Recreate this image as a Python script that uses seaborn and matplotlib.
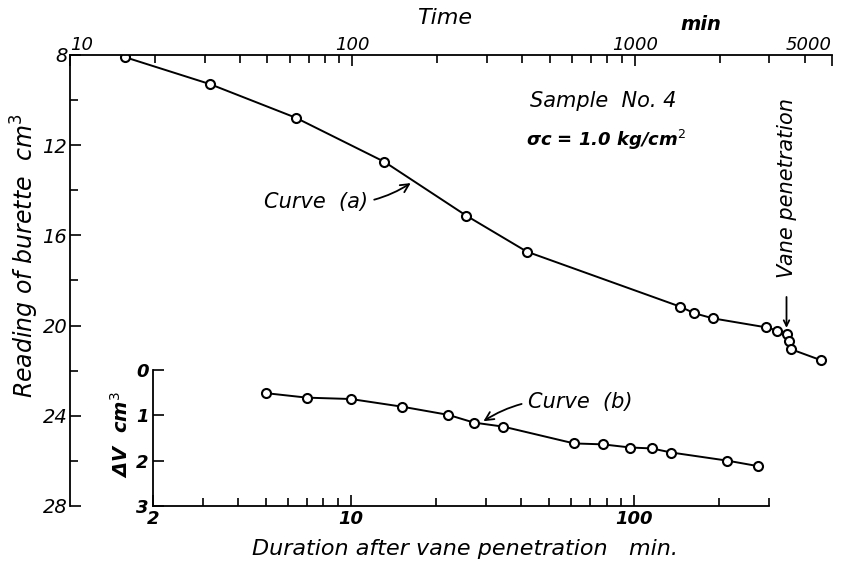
import matplotlib
matplotlib.use("Agg")
import matplotlib.pyplot as plt
import seaborn as sns
import pandas as pd
from matplotlib.ticker import NullFormatter, FixedLocator

# ---- data: curve (a), reading of burette vs elapsed time ----
time_a = [15.7, 31.3, 63, 130, 253, 415, 1450, 1625, 1895, 2930, 3200, 3450, 3520, 3565, 4560]
reading_a = [8.1, 9.29, 10.78, 12.74, 15.12, 16.72, 19.16, 19.45, 19.68, 20.08, 20.22, 20.37, 20.68, 21.04, 21.53]

# ---- data: curve (b), delta V vs duration after vane penetration ----
dur_b = [5.0, 7.0, 10.0, 15.2, 22.1, 27.2, 34.6, 61.5, 77.6, 97.2, 115.6, 135.5, 214, 274]
dv_b = [0.51, 0.61, 0.64, 0.81, 0.99, 1.16, 1.25, 1.62, 1.64, 1.71, 1.73, 1.82, 2.0, 2.12]

top_ticks = [10, 100, 1000, 5000]
top_labels = ["10", "100", "1000", "5000"]
left_ticks = [8, 12, 16, 20, 24, 28]
inset_xticks = [2, 10, 100]
inset_yticks = [0, 1, 2, 3]

df_a = pd.DataFrame({"time": time_a, "reading": reading_a})
df_b = pd.DataFrame({"dur": dur_b, "dv": dv_b})

sns.set_style("ticks")
plt.rcParams["font.family"] = ["DejaVu Sans"]
for k in ["text.color", "axes.labelcolor", "xtick.color", "ytick.color", "axes.edgecolor"]:
    plt.rcParams[k] = "black"

W, H = 847, 568
fig = plt.figure(figsize=(W / 100, H / 100), dpi=100)

def fx(px):
    return px / W

def fy(py):
    return 1 - py / H

ax = fig.add_axes([fx(70), fy(506), fx(832) - fx(70), fy(55) - fy(506)])
ins = fig.add_axes([fx(153), fy(506), fx(769) - fx(153), fy(370) - fy(506)])
ins.patch.set_alpha(0)
ax.patch.set_alpha(0)

mk = dict(marker="o", markersize=6.5, markerfacecolor="white",
          markeredgecolor="black", markeredgewidth=1.5)

sns.lineplot(data=df_a, x="time", y="reading", ax=ax, color="black",
             linewidth=1.4, sort=False, estimator=None, **mk)
sns.lineplot(data=df_b, x="dur", y="dv", ax=ins, color="black",
             linewidth=1.4, sort=False, estimator=None, **mk)

# main axes
ax.set_xscale("log")
ax.set_xlim(10, 5000)
ax.set_ylim(28, 8)
ax.xaxis.tick_top()
ax.xaxis.set_label_position("top")
ax.set_xticks(top_ticks)
ax.set_xticklabels(top_labels)
ax.xaxis.set_minor_formatter(NullFormatter())
ax.set_yticks(left_ticks)
ax.yaxis.set_minor_locator(FixedLocator([10, 14, 18, 22, 26]))
for s in ["right", "bottom"]:
    ax.spines[s].set_visible(False)
for s in ["top", "left"]:
    ax.spines[s].set_linewidth(1.3)
ax.tick_params(which="both", direction="in", width=1.2, labelsize=13, pad=2)
ax.tick_params(axis="x", pad=1)
ax.tick_params(which="major", length=8)
ax.tick_params(which="minor", length=6)
for lab in ax.get_xticklabels() + ax.get_yticklabels():
    lab.set_fontstyle("italic")
for lab in ax.get_yticklabels():
    lab.set_fontsize(14)
xl = ax.get_xticklabels()
xl[0].set_ha("left")
xl[-1].set_ha("right")
ax.set_xlabel("")
ax.set_ylabel("")

# inset axes
ins.set_xscale("log")
ins.set_xlim(2, 300)
ins.set_ylim(3, 0)
ins.set_xticks(inset_xticks)
ins.set_xticklabels([str(t) for t in inset_xticks])
ins.xaxis.set_minor_formatter(NullFormatter())
ins.set_yticks(inset_yticks)
for s in ["right", "top"]:
    ins.spines[s].set_visible(False)
for s in ["bottom", "left"]:
    ins.spines[s].set_linewidth(1.3)
ins.tick_params(which="both", direction="in", width=1.2, labelsize=13, pad=3)
ins.tick_params(which="major", length=8)
ins.tick_params(which="minor", length=6)
for lab in ins.get_xticklabels() + ins.get_yticklabels():
    lab.set_fontstyle("italic")
    lab.set_fontweight("bold")
ins.set_xlabel("")
ins.set_ylabel("")

# axis titles
fig.text(fx(445), fy(18), "Time", fontsize=16, style="italic", ha="center", va="center")
fig.text(fx(701), fy(25), "min", fontsize=14, style="italic", weight="bold", ha="center", va="center")
fig.text(fx(25), fy(256), "Reading of burette  cm$^3$", fontsize=17, style="italic",
         rotation=90, ha="center", va="center")
fig.text(fx(121), fy(435), "ΔV  cm$^3$", fontsize=14, style="italic", weight="bold",
         rotation=90, ha="center", va="center")
fig.text(fx(465), fy(549), "Duration after vane penetration   min.", fontsize=16,
         style="italic", ha="center", va="center")

# annotations
ax.text(776, 10.04, "Sample  No. 4", fontsize=15, style="italic", ha="center", va="center")
ax.text(790, 11.77, "σc = 1.0 kg/cm$^2$", fontsize=13, style="italic", weight="bold",
        ha="center", va="center")
ax.annotate("Curve  (a)", xy=(161, 13.68), xytext=(74.5, 14.5), fontsize=15,
            style="italic", ha="center", va="center",
            arrowprops=dict(arrowstyle="->", color="black", lw=1.3,
                            connectionstyle="arc3,rad=0.2", shrinkA=2, shrinkB=0))
ins.annotate("Curve  (b)", xy=(29.4, 1.13), xytext=(64.4, 0.71), fontsize=15,
             style="italic", ha="center", va="center",
             arrowprops=dict(arrowstyle="->", color="black", lw=1.3,
                             connectionstyle="arc3,rad=0.2", shrinkA=2, shrinkB=0))
ax.text(3460, 13.9, "Vane penetration", fontsize=15, style="italic", rotation=90,
        ha="center", va="center")
ax.annotate("", xy=(3450, 20.1), xytext=(3450, 18.73),
            arrowprops=dict(arrowstyle="->", color="black", lw=1.3, shrinkA=0, shrinkB=0))

fig.savefig("out.png", dpi=100)
